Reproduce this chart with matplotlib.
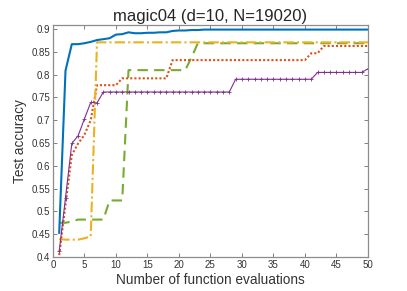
import matplotlib
matplotlib.use("Agg")
import matplotlib.pyplot as plt
import numpy as np

plt.rcParams['font.family'] = ['Liberation Sans', 'DejaVu Sans']

evals = list(range(1, 51))

blue = [0.453, 0.809, 0.867, 0.867, 0.869, 0.872, 0.876, 0.878, 0.880, 0.888,
        0.889, 0.893, 0.891, 0.891, 0.892, 0.892, 0.893, 0.893, 0.896, 0.897,
        0.897, 0.898, 0.898, 0.899, 0.899, 0.899, 0.899, 0.899, 0.899, 0.899,
        0.899, 0.899, 0.899, 0.899, 0.899, 0.899, 0.899, 0.899, 0.899, 0.899,
        0.899, 0.899, 0.899, 0.899, 0.899, 0.899, 0.899, 0.899, 0.899, 0.899]

red = [0.404, 0.515, 0.624, 0.649, 0.668, 0.700, 0.777, 0.777, 0.777, 0.777,
       0.792, 0.792, 0.792, 0.792, 0.792, 0.792, 0.792, 0.792, 0.832, 0.832,
       0.832, 0.832, 0.832, 0.832, 0.832, 0.832, 0.832, 0.832, 0.832, 0.832,
       0.832, 0.832, 0.832, 0.832, 0.832, 0.832, 0.832, 0.832, 0.832, 0.832,
       0.847, 0.847, 0.863, 0.863, 0.863, 0.863, 0.863, 0.863, 0.863, 0.863]

orange = [0.439, 0.438, 0.438, 0.438, 0.441, 0.445, 0.871, 0.871, 0.871, 0.871,
          0.871, 0.871, 0.871, 0.871, 0.871, 0.871, 0.871, 0.871, 0.871, 0.871,
          0.871, 0.871, 0.871, 0.871, 0.871, 0.871, 0.871, 0.871, 0.871, 0.871,
          0.871, 0.871, 0.871, 0.871, 0.871, 0.871, 0.871, 0.871, 0.871, 0.871,
          0.871, 0.871, 0.871, 0.871, 0.871, 0.871, 0.871, 0.871, 0.871, 0.871]

purple = [0.412, 0.530, 0.649, 0.666, 0.703, 0.739, 0.738, 0.762, 0.762, 0.762,
          0.762, 0.762, 0.762, 0.762, 0.762, 0.762, 0.762, 0.762, 0.762, 0.762,
          0.762, 0.762, 0.762, 0.762, 0.762, 0.762, 0.762, 0.762, 0.790, 0.790,
          0.790, 0.790, 0.790, 0.790, 0.790, 0.790, 0.790, 0.790, 0.790, 0.790,
          0.790, 0.805, 0.805, 0.805, 0.805, 0.805, 0.805, 0.805, 0.805, 0.813]

green = [0.475, 0.475, 0.478, 0.482, 0.482, 0.482, 0.482, 0.482, 0.524, 0.524,
         0.524, 0.810, 0.810, 0.810, 0.810, 0.810, 0.810, 0.810, 0.810, 0.810,
         0.810, 0.838, 0.869, 0.869, 0.869, 0.869, 0.869, 0.869, 0.869, 0.869,
         0.869, 0.869, 0.869, 0.869, 0.869, 0.869, 0.869, 0.869, 0.869, 0.869,
         0.869, 0.869, 0.869, 0.869, 0.869, 0.869, 0.869, 0.869, 0.869, 0.869]

title = "magic04 (d=10, N=19020)"
xlabel = "Number of function evaluations"
ylabel = "Test accuracy"
xticks = [0, 5, 10, 15, 20, 25, 30, 35, 40, 45, 50]
yticks = [0.4, 0.45, 0.5, 0.55, 0.6, 0.65, 0.7, 0.75, 0.8, 0.85, 0.9]
ytick_labels = ["0.4", "0.45", "0.5", "0.55", "0.6", "0.65", "0.7", "0.75", "0.8", "0.85", "0.9"]

fig = plt.figure(figsize=(4.07, 2.91), dpi=100)
ax = fig.add_axes([0.130, 0.117, 0.774, 0.797])

ax.plot(evals, green, color='#77AC30', lw=1.5, ls=(0, (5, 3)))
ax.plot(evals, red, color='#D95319', lw=1.5, ls=(0, (1, 1)))
ax.plot(evals, orange, color='#EDB120', lw=1.5, ls=(0, (5, 1.5, 1, 1.5)))
ax.plot(evals, purple, color='#7E2F8E', lw=0.8, marker='+', ms=3, mew=0.6)
ax.plot(evals, blue, color='#0072BD', lw=1.5)

ax.set_xlim(0, 50)
ax.set_ylim(0.4, 0.909)
ax.set_xticks(xticks)
ax.set_yticks(yticks)
ax.set_yticklabels(ytick_labels)
ax.tick_params(direction='in', length=3, width=0.7, labelsize=7, color='#808080',
               labelcolor='#333333', top=True, right=True, pad=2)
for s in ax.spines.values():
    s.set_color('#8c8c8c')
    s.set_linewidth(0.9)
ax.set_title(title, fontsize=12, color='#262626', pad=3)
ax.set_xlabel(xlabel, fontsize=9.8, color='#333333', labelpad=2)
ax.set_ylabel(ylabel, fontsize=9.8, color='#333333', labelpad=3)

fig.savefig("out.png", dpi=100)
